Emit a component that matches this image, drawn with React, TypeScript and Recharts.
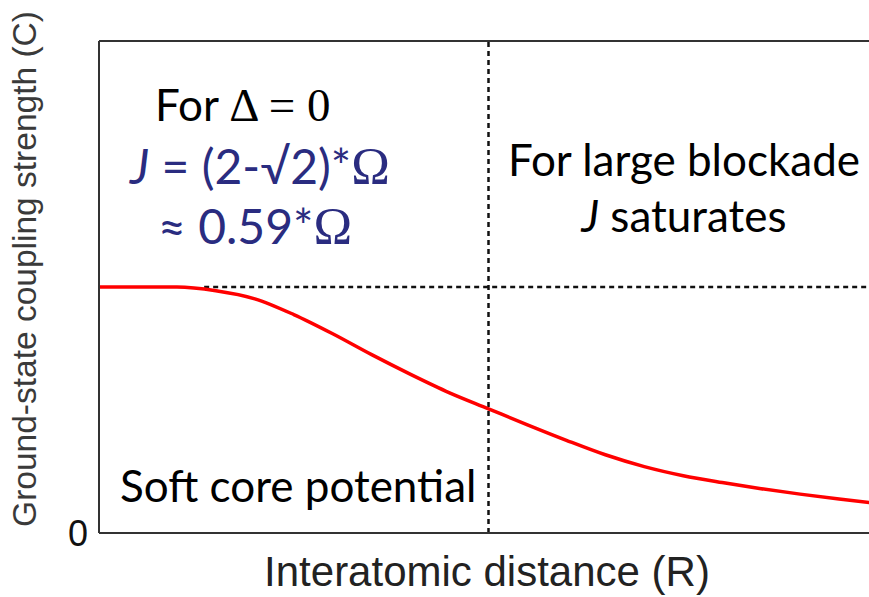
import React from 'react';
import { LineChart, Line, XAxis, YAxis, ReferenceLine } from 'recharts';

// interatomic distance R (arbitrary units) and ground-state coupling J (units of the saturated value)
const distance = [0, 0.5, 1, 1.5, 2, 2.5, 3, 3.5, 4, 4.5, 5, 5.5, 6, 6.5, 7, 7.5, 8, 8.5, 9, 9.5, 10];
const coupling = [1.0, 1.0, 1.0, 0.985, 0.952, 0.888, 0.81, 0.725, 0.645, 0.57, 0.505, 0.44, 0.377, 0.318, 0.27, 0.233, 0.205, 0.18, 0.158, 0.138, 0.12];
const yTicks = [0];
const saturation = 1;
const crossover = 5;
const plateauStart = 1.35;

const data = distance.map((r, i) => ({ r, c: coupling[i] }));

const calibri = 'Lato, "Open Sans", sans-serif';
const serif = '"Liberation Serif", "DejaVu Serif", serif';
const arial = '"Liberation Sans", Arial, sans-serif';
const navy = '#2a2c80';

const Annotations = () => (
  <svg width={869} height={597} style={{ position: 'absolute', left: 0, top: 0, pointerEvents: 'none' }}>
    <text x={24} y={269} transform="rotate(-90 24 269)" textAnchor="middle" dominantBaseline="central"
      fontFamily={arial} fontSize={33.5} fill="#3a3a3a">Ground-state coupling strength (C)</text>
    <text x={487} y={586} textAnchor="middle" fontFamily={arial} fontSize={42} fill="#222">Interatomic distance (R)</text>

    <text x={155} y={121} fontFamily={calibri} fontSize={44} fill="#000">
      For <tspan fontFamily={serif} fontSize={47}>Δ = 0</tspan>
    </text>
    <text x={130} y={184} fontFamily={calibri} fontSize={48} fill={navy}>
      <tspan fontStyle="italic">J</tspan> = (2-√2)*<tspan fontFamily={serif} fontSize={52}>Ω</tspan>
    </text>
    <text x={158} y={244} fontFamily={calibri} fontSize={48} fill={navy}>
      ≈ 0.59*<tspan fontFamily={serif} fontSize={52}>Ω</tspan>
    </text>

    <text x={684} y={176} textAnchor="middle" fontFamily={calibri} fontSize={44} fill="#000">For large blockade</text>
    <text x={684} y={232} textAnchor="middle" fontFamily={calibri} fontSize={44} fill="#000">
      <tspan fontStyle="italic">J</tspan> saturates
    </text>

    <text x={120} y={502} fontFamily={calibri} fontSize={44} fill="#000">Soft core potential</text>
  </svg>
);

export default function App() {
  return (
    <div style={{ position: 'absolute', left: 0, top: 0, width: 869, height: 597, overflow: 'hidden', background: '#fff' }}>
      <LineChart width={880} height={597} data={data} margin={{ top: 41, right: 2, bottom: 0, left: 0 }}>
        <XAxis type="number" dataKey="r" domain={[0, 10]} tick={false} tickLine={false}
          axisLine={{ stroke: '#333', strokeWidth: 2 }} height={64} />
        <YAxis type="number" domain={[0, 2]} ticks={yTicks} width={99} tickLine={false} tickMargin={5}
          axisLine={{ stroke: '#333', strokeWidth: 2 }}
          tick={{ fontFamily: arial, fontSize: 36, fill: '#111' }} />
        <ReferenceLine y={2} stroke="#333" strokeWidth={2} />
        <ReferenceLine x={crossover} stroke="#111" strokeWidth={2.5} strokeDasharray="5 4" />
        <ReferenceLine segment={[{ x: plateauStart, y: saturation }, { x: 10, y: saturation }]}
          stroke="#111" strokeWidth={2.5} strokeDasharray="5 4" />
        <Line type="monotone" dataKey="c" stroke="#ff0000" strokeWidth={3.5} dot={false} isAnimationActive={false} />
      </LineChart>
      <Annotations />
    </div>
  );
}
